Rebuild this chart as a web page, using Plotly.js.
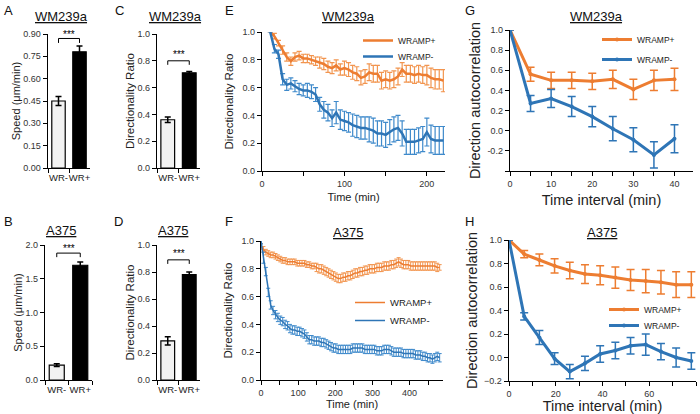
<!DOCTYPE html>
<html>
<head>
<meta charset="utf-8">
<script src="https://cdn.plot.ly/plotly-3.0.1.min.js"></script>
<style>html,body{margin:0;padding:0;background:#fff;}#chart{width:700px;height:414px;}</style>
</head>
<body>
<div id="chart"></div>
<script>
// ---------------- DATA ----------------
const barCats = ['WR-', 'WR+'];
const speedWM239a = [0.45, 0.78];
const speedWM239aErr = [0.03, 0.04];
const speedA375 = [0.22, 1.70];
const speedA375Err = [0.02, 0.05];
const dirWM239a = [0.36, 0.71];
const dirWM239aErr = [0.02, 0.01];
const dirA375 = [0.29, 0.78];
const dirA375Err = [0.03, 0.02];

const timeE = [10,15,20,25,30,35,40,45,50,55,60,65,70,75,80,85,90,95,100,105,110,115,120,125,130,135,140,145,150,155,160,165,170,175,180,185,190,195,200,205,210,215,220];
const wrampPlusE = [1.00,0.97,0.92,0.87,0.82,0.79,0.82,0.83,0.81,0.81,
  0.80,0.79,0.78,0.77,0.75,0.74,0.76,0.73,0.74,0.73,
  0.71,0.70,0.67,0.68,0.71,0.70,0.70,0.65,0.66,0.65,
  0.66,0.68,0.73,0.70,0.70,0.69,0.70,0.69,0.69,0.67,
  0.66,0.66,0.65];
const wrampPlusEErr = [0,0.02,0.02,0.03,0.03,0.03,0.03,0.03,0.03,0.03,
  0.03,0.03,0.04,0.04,0.04,0.04,0.04,0.04,0.05,0.05,
  0.05,0.05,0.05,0.05,0.06,0.06,0.06,0.06,0.06,0.06,
  0.06,0.06,0.05,0.06,0.06,0.06,0.06,0.06,0.07,0.07,
  0.07,0.07,0.08];
const wrampMinusE = [1.00,0.88,0.84,0.66,0.62,0.63,0.61,0.59,0.58,0.58,
  0.57,0.55,0.48,0.44,0.42,0.38,0.42,0.37,0.36,0.35,
  0.33,0.32,0.31,0.31,0.30,0.29,0.27,0.27,0.26,0.28,
  0.30,0.31,0.27,0.21,0.21,0.21,0.22,0.23,0.28,0.23,
  0.22,0.22,0.22];
const wrampMinusEErr = [0,0.03,0.03,0.04,0.04,0.04,0.04,0.04,0.04,0.05,
  0.05,0.05,0.05,0.06,0.06,0.06,0.08,0.07,0.07,0.07,
  0.08,0.08,0.08,0.08,0.09,0.09,0.09,0.09,0.09,0.09,
  0.09,0.09,0.09,0.09,0.09,0.09,0.09,0.09,0.10,0.10,
  0.10,0.10,0.10];

const timeF = [0,6.5,13,19.5,26,32.5,39,45.5,52,58.5,65,71.5,78,84.5,91,97.5,104,110.5,117,123.5,
  130,136.5,143,149.5,156,162.5,169,175.5,182,188.5,195,201.5,208,214.5,221,227.5,234,240.5,247,253.5,
  260,266.5,273,279.5,286,292.5,299,305.5,312,318.5,325,331.5,338,344.5,351,357.5,364,370.5,377,383.5,
  390,396.5,403,409.5,416,422.5,429,435.5,442,448.5,455,461.5,468,474.5,481];
const wrampPlusF = [0.96,0.94,0.92,0.91,0.90,0.90,0.89,0.88,0.87,0.86,
  0.86,0.85,0.85,0.85,0.85,0.84,0.84,0.84,0.84,0.83,
  0.83,0.82,0.82,0.81,0.80,0.80,0.79,0.78,0.77,0.76,
  0.75,0.74,0.73,0.73,0.74,0.74,0.75,0.75,0.76,0.77,
  0.77,0.78,0.78,0.79,0.79,0.80,0.80,0.80,0.81,0.81,
  0.81,0.82,0.82,0.82,0.83,0.83,0.84,0.85,0.84,0.83,
  0.83,0.83,0.82,0.82,0.82,0.82,0.82,0.82,0.82,0.82,
  0.82,0.82,0.82,0.81,0.81];
const wrampPlusFErr = [0.02,0.02,0.02,0.02,0.02,0.02,0.02,0.02,0.02,0.02,
  0.02,0.02,0.02,0.02,0.02,0.02,0.02,0.02,0.02,0.02,
  0.02,0.02,0.02,0.03,0.03,0.03,0.03,0.03,0.03,0.03,
  0.03,0.03,0.03,0.03,0.03,0.03,0.03,0.03,0.03,0.03,
  0.03,0.03,0.03,0.03,0.03,0.03,0.03,0.03,0.03,0.03,
  0.03,0.03,0.03,0.03,0.03,0.03,0.03,0.03,0.03,0.03,
  0.03,0.03,0.03,0.03,0.03,0.03,0.03,0.03,0.03,0.03,
  0.03,0.03,0.03,0.03,0.02];
const wrampMinusF = [1.00,0.88,0.78,0.63,0.54,0.50,0.47,0.45,0.43,0.42,
  0.40,0.39,0.37,0.36,0.36,0.35,0.35,0.34,0.33,0.31,
  0.29,0.29,0.28,0.28,0.28,0.27,0.27,0.26,0.25,0.24,
  0.23,0.23,0.22,0.22,0.22,0.22,0.22,0.22,0.23,0.23,
  0.23,0.23,0.23,0.22,0.22,0.22,0.22,0.22,0.21,0.21,
  0.21,0.22,0.22,0.22,0.21,0.20,0.20,0.20,0.20,0.19,
  0.19,0.19,0.19,0.19,0.18,0.18,0.18,0.17,0.17,0.16,
  0.16,0.15,0.16,0.17,0.16];
const wrampMinusFErr = [0.02,0.04,0.03,0.03,0.03,0.03,0.03,0.03,0.03,0.03,
  0.03,0.03,0.03,0.03,0.03,0.03,0.03,0.03,0.03,0.03,
  0.03,0.03,0.03,0.03,0.03,0.03,0.03,0.03,0.03,0.03,
  0.03,0.03,0.03,0.03,0.03,0.03,0.03,0.03,0.03,0.03,
  0.03,0.03,0.03,0.03,0.03,0.03,0.03,0.03,0.03,0.03,
  0.03,0.03,0.03,0.03,0.03,0.03,0.03,0.03,0.03,0.03,
  0.03,0.03,0.03,0.03,0.03,0.03,0.03,0.03,0.03,0.03,
  0.03,0.03,0.03,0.03,0.03];

const lagG = [0,5,10,15,20,25,30,35,40];
const wrampPlusG = [1.00,0.56,0.50,0.50,0.49,0.51,0.41,0.50,0.51];
const wrampPlusGErr = [0,0.07,0.08,0.08,0.08,0.09,0.10,0.10,0.11];
const wrampMinusG = [1.00,0.27,0.32,0.24,0.14,0.02,-0.09,-0.24,-0.08];
const wrampMinusGErr = [0,0.08,0.09,0.10,0.10,0.12,0.12,0.13,0.14];

const lagH = [0,6.5,13,19.5,26,32.5,39,45.5,52,58.5,65,71.5,78];
const wrampPlusH = [1.00,0.88,0.83,0.78,0.74,0.71,0.70,0.68,0.66,0.65,0.64,0.62,0.62];
const wrampPlusHErr = [0,0.03,0.05,0.06,0.07,0.08,0.08,0.09,0.09,0.10,0.10,0.11,0.11];
const wrampMinusH = [1.00,0.35,0.17,-0.01,-0.12,-0.05,0.03,0.06,0.10,0.11,0.05,0.00,-0.03];
const wrampMinusHErr = [0,0.03,0.06,0.05,0.06,0.06,0.07,0.07,0.07,0.09,0.07,0.08,0.07];

const seriesNames = ['WRAMP+', 'WRAMP-'];
const cellLines = ['WM239a', 'A375'];

// ---------------- STYLE ----------------
const FONT = 'Liberation Sans, Arial, sans-serif';
const ORANGE = '#ED7D31', BLUE = '#2E75B6';
const ORANGE_ERR = '#F2954F', BLUE_ERR = '#3F8ACB';
const W = 700, H = 414;
const px = v => v / W;
const py = v => 1 - v / H;

function yAx(top, bottom, range, extra) {
  return Object.assign({
    domain: [py(bottom), py(top)], range: range, showline: true, linecolor: '#000', linewidth: 1.3,
    ticks: 'outside', ticklen: 4, tickwidth: 1, tickcolor: '#000', showgrid: false, zeroline: false,
    tickfont: {family: FONT, size: 9, color: '#333'}, automargin: false
  }, extra);
}
function xAx(left, right, extra) {
  return Object.assign({
    domain: [px(left), px(right)], showline: true, linecolor: '#000', linewidth: 1.3,
    ticks: 'outside', ticklen: 4, tickwidth: 1, tickcolor: '#000', showgrid: false, zeroline: false,
    tickfont: {family: FONT, size: 9, color: '#333'}, automargin: false, tickangle: 0
  }, extra);
}

const traces = [];
function addBars(xa, ya, vals, errs) {
  traces.push({
    type: 'bar', x: barCats, y: vals, xaxis: xa, yaxis: ya, width: 0.64, showlegend: false,
    marker: {color: ['#F2F2F2', '#000000'], line: {color: '#000', width: 1.2}},
    error_y: {type: 'data', array: errs, color: '#000', thickness: 1.5, width: 3}
  });
}
addBars('x', 'y', speedWM239a, speedWM239aErr);
addBars('x2', 'y2', speedA375, speedA375Err);
addBars('x3', 'y3', dirWM239a, dirWM239aErr);
addBars('x4', 'y4', dirA375, dirA375Err);

function addLine(xa, ya, xs, ys, es, name, color, ecolor, lw, leg, withMarkers, ethick, ewidth) {
  traces.push({
    type: 'scatter', mode: withMarkers ? 'lines+markers' : 'lines', x: xs, y: ys, xaxis: xa, yaxis: ya,
    name: name, legend: leg, line: {color: color, width: lw},
    marker: {size: 4, color: color},
    error_y: {type: 'data', array: es, color: ecolor, thickness: ethick, width: ewidth}
  });
}
addLine('x5', 'y5', timeE, wrampPlusE, wrampPlusEErr, seriesNames[0], ORANGE, ORANGE_ERR, 2.5, 'legend', false, 1.2, 2.5);
addLine('x5', 'y5', timeE, wrampMinusE, wrampMinusEErr, seriesNames[1], BLUE, BLUE_ERR, 2.5, 'legend2', false, 1.2, 2.5);
addLine('x6', 'y6', timeF, wrampPlusF, wrampPlusFErr, seriesNames[0], ORANGE, ORANGE_ERR, 1.5, 'legend3', false, 1, 2);
addLine('x6', 'y6', timeF, wrampMinusF, wrampMinusFErr, seriesNames[1], BLUE, BLUE_ERR, 1.5, 'legend4', false, 1, 2);
addLine('x7', 'y7', lagG, wrampPlusG, wrampPlusGErr, seriesNames[0], ORANGE, ORANGE, 3, 'legend5', true, 1.5, 4);
addLine('x7', 'y7', lagG, wrampMinusG, wrampMinusGErr, seriesNames[1], BLUE, BLUE, 3, 'legend6', true, 1.5, 4);
addLine('x8', 'y8', lagH, wrampPlusH, wrampPlusHErr, seriesNames[0], ORANGE, ORANGE, 3, 'legend7', true, 1.5, 4);
addLine('x8', 'y8', lagH, wrampMinusH, wrampMinusHErr, seriesNames[1], BLUE, BLUE, 3, 'legend8', true, 1.5, 4);

const catX = {type: 'category', range: [-0.5, 1.5], tickson: 'boundaries', tickfont: {family: FONT, size: 9.5, color: '#222'}};
function ttl(text, size, standoff) { return {text: text, font: {family: FONT, size: size, color: '#222'}, standoff: standoff}; }

function leg(left, center, size) {
  return {x: px(left), y: py(center - 13), xanchor: 'left', yanchor: 'top', bgcolor: 'rgba(0,0,0,0)', itemwidth: 30,
    font: {family: FONT, size: size, color: '#222'}};
}

const layout = {
  width: W, height: H, margin: {l: 0, r: 0, t: 0, b: 0}, paper_bgcolor: '#fff', plot_bgcolor: 'rgba(0,0,0,0)',
  font: {family: FONT, color: '#222'}, bargap: 0,
  xaxis: xAx(48, 90, Object.assign({anchor: 'y'}, catX)),
  yaxis: yAx(34, 168, [0, 0.9], {anchor: 'x', dtick: 0.15, tick0: 0, tickformat: '.2f', title: ttl('Speed (μm/min)', 11, 0)}),
  xaxis2: xAx(45, 92, Object.assign({anchor: 'y2'}, catX)),
  yaxis2: yAx(245, 380, [0, 2], {anchor: 'x2', dtick: 0.5, tick0: 0, tickformat: '.1f', title: ttl('Speed (μm/min)', 11, 0)}),
  xaxis3: xAx(157, 200, Object.assign({anchor: 'y3'}, catX)),
  yaxis3: yAx(34, 168, [0, 1], {anchor: 'x3', dtick: 0.2, tick0: 0, tickformat: '.1f', title: ttl('Directionality Ratio', 11.5, 0)}),
  xaxis4: xAx(157, 200, Object.assign({anchor: 'y4'}, catX)),
  yaxis4: yAx(245, 380, [0, 1], {anchor: 'x4', dtick: 0.2, tick0: 0, tickformat: '.1f', title: ttl('Directionality Ratio', 11.5, 0)}),
  xaxis5: xAx(262, 445, {anchor: 'y5', range: [0, 222], tickvals: [0, 50, 100, 150, 200], ticktext: ['0', '', '100', '', '200'], title: ttl('Time (min)', 11, 5)}),
  yaxis5: yAx(32, 171, [0, 1], {anchor: 'x5', dtick: 0.2, tick0: 0, tickformat: '.1f', title: ttl('Directionality Ratio', 11.5, 6)}),
  xaxis6: xAx(261, 443, {anchor: 'y6', range: [0, 490], tickvals: [0, 50, 100, 150, 200, 250, 300, 350, 400, 450], ticktext: ['0', '', '100', '', '200', '', '300', '', '400', ''], title: ttl('Time (min)', 11, 2)}),
  yaxis6: yAx(241, 380, [0, 1], {anchor: 'x6', dtick: 0.2, tick0: 0, tickformat: '.1f', title: ttl('Directionality Ratio', 11.5, 6)}),
  xaxis7: xAx(510, 693, {anchor: 'y7', range: [0, 44.5], tickvals: [0, 5, 10, 15, 20, 25, 30, 35, 40], ticktext: ['0', '', '10', '', '20', '', '30', '', '40'], title: ttl('Time interval (min)', 14.5, 6)}),
  yaxis7: yAx(30, 171, [-0.4, 1.0], {anchor: 'x7', tickvals: [-0.4, -0.2, 0, 0.2, 0.4, 0.6, 0.8, 1.0], ticktext: ['', '-0.2', '0.0', '0.2', '0.4', '0.6', '0.8', '1.0'], title: ttl('Direction autocorrelation', 14.5, 3)}),
  xaxis8: xAx(509, 696, {anchor: 'y8', range: [0, 80], tickvals: [0, 10, 20, 30, 40, 50, 60, 70, 80], ticktext: ['0', '', '20', '', '40', '', '60', '', '80'], title: ttl('Time interval (min)', 14.5, 2)}),
  yaxis8: yAx(240, 381, [-0.2, 1.0], {anchor: 'x8', dtick: 0.2, tick0: -0.2, tickformat: '.1f', title: ttl('Direction autocorrelation', 14.5, 3)}),
  legend:  leg(358, 39, 8.5),
  legend2: leg(358, 55, 8.5),
  legend3: leg(350, 301, 9.5),
  legend4: leg(350, 319, 9.5),
  legend5: leg(597, 38, 8.5),
  legend6: leg(597, 58, 8.5),
  legend7: leg(604, 308, 8.5),
  legend8: leg(604, 324, 8.5),
  annotations: [],
  shapes: []
};

// Panel letters
const letters = [['A', 2, 1], ['B', 2, 212], ['C', 113, 1], ['D', 112, 212], ['E', 223, 1], ['F', 223, 212], ['G', 463, 1], ['H', 463, 212]];
letters.forEach(l => layout.annotations.push({text: l[0], x: px(l[1]), y: py(l[2]), xref: 'paper', yref: 'paper', xanchor: 'left', yanchor: 'top', showarrow: false, font: {family: FONT, size: 13, color: '#111'}}));

// Panel titles
const titles = [[cellLines[0], 61, 17], [cellLines[1], 61, 230], [cellLines[0], 175, 17], [cellLines[1], 173, 230], [cellLines[0], 348, 17], [cellLines[1], 348, 232], [cellLines[0], 596, 17], [cellLines[1], 602, 232]];
titles.forEach(t => layout.annotations.push({text: '<u>' + t[0] + '</u>', x: px(t[1]), y: py(t[2]), xref: 'paper', yref: 'paper', xanchor: 'center', yanchor: 'middle', showarrow: false, font: {family: FONT, size: 13, color: '#111'}}));

// Significance brackets (stars placed in each plot's domain space)
function bracket(xa, ya, level, drop, starDomainY) {
  layout.shapes.push({type: 'path', xref: xa, yref: ya, path: `M 0 ${level - drop} L 0 ${level} L 1 ${level} L 1 ${level - drop}`, line: {color: '#000', width: 1}});
  layout.annotations.push({text: '***', x: 0.5, y: starDomainY, xref: xa + ' domain', yref: ya + ' domain', showarrow: false, xanchor: 'center', yanchor: 'middle', font: {family: FONT, size: 10, color: '#000'}});
}
bracket('x', 'y', 0.87, 0.03, 1.0);
bracket('x2', 'y2', 1.88, 0.06, 0.975);
bracket('x3', 'y3', 0.80, 0.03, 0.85);
bracket('x4', 'y4', 0.89, 0.03, 0.935);

Plotly.newPlot('chart', traces, layout, {displayModeBar: false, staticPlot: true});
</script>
</body>
</html>
